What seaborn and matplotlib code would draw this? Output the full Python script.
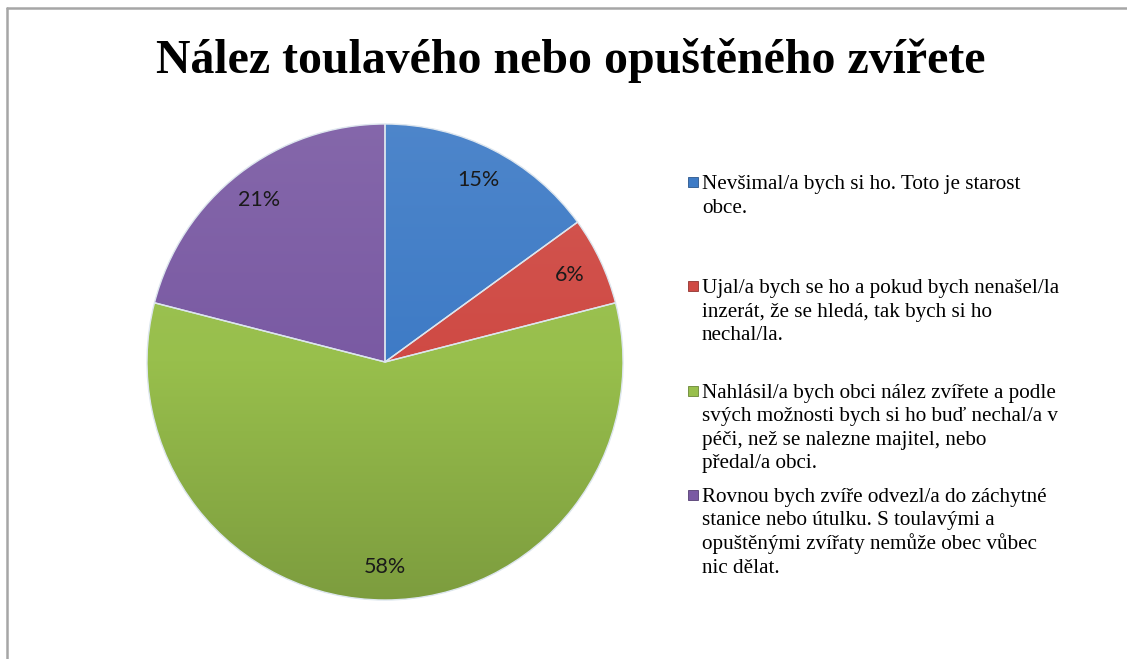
import matplotlib
matplotlib.use("Agg")
import matplotlib.pyplot as plt
import numpy as np
import seaborn as sns
from matplotlib.lines import Line2D
from matplotlib.patches import Rectangle
from matplotlib.colors import LinearSegmentedColormap, to_rgb

# data
odpovedi = [
    "Nevšimal/a bych si ho. Toto je starost\nobce.",
    "Ujal/a bych se ho a pokud bych nenašel/la\ninzerát, že se hledá, tak bych si ho\nnechal/la.",
    "Nahlásil/a bych obci nález zvířete a podle\nsvých možnosti bych si ho buď nechal/a v\npéči, než se nalezne majitel, nebo\npředal/a obci.",
    "Rovnou bych zvíře odvezl/a do záchytné\nstanice nebo útulku. S toulavými a\nopuštěnými zvířaty nemůže obec vůbec\nnic dělat.",
]
podil = [15, 6, 58, 21]
barvy = ["#3E7BC6", "#CF4A44", "#98BF4C", "#7A5AA3"]
titulek = "Nález toulavého nebo opuštěného zvířete"

sns.set_style("white")
paleta = sns.color_palette(barvy)


def shade(c, f):
    c = np.array(to_rgb(c))
    if f >= 1:
        return tuple(c + (1 - c) * (f - 1))
    return tuple(c * f)


W, H = 1127, 659
fig = plt.figure(figsize=(W / 100, H / 100), dpi=100)

# pie axes: center (385, 362), radius 238 px
cx, cy, r = 385, 362, 238
ax = fig.add_axes([(cx - r) / W, (H - cy - r) / H, 2 * r / W, 2 * r / H])
wedges, texts, autotexts = ax.pie(
    podil, colors=paleta, startangle=90, counterclock=False,
    autopct=lambda p: f"{p:.0f}%", pctdistance=0.86,
    wedgeprops=dict(edgecolor="#DDE6EE", linewidth=1.0),
    textprops=dict(fontsize=15.5, family="Lato", color="#1a1a1a"),
)

# soft top-to-bottom shading like the office 3D style
grad = np.linspace(1, 0, 256).reshape(-1, 1)
for w, c in zip(wedges, paleta):
    cmap = LinearSegmentedColormap.from_list("g", [shade(c, 0.82), c, shade(c, 1.08)])
    im = ax.imshow(grad, extent=(-1, 1, -1, 1), cmap=cmap, vmin=0, vmax=1,
                   aspect="auto", zorder=1.5, interpolation="bilinear")
    im.set_clip_path(w)
    w.set_facecolor("none")
    w.set_zorder(2)
for t in autotexts:
    t.set_zorder(3)

ax.set_xlim(-1, 1)
ax.set_ylim(-1, 1)
ax.set_aspect("auto")
ax.axis("off")

fig.text(571 / W, 1 - 73 / H, titulek, ha="center", va="baseline",
         family="Liberation Serif", fontweight="bold", fontsize=34.5, color="black")

# legend drawn by hand, one text per line
x_txt = 702 / W
base0 = 189
step = 104.3
row = 23.6
for i, (lab, c) in enumerate(zip(odpovedi, paleta)):
    b = base0 + i * step
    for j, line in enumerate(lab.split("\n")):
        fig.text(x_txt, 1 - (b + j * row) / H, line, ha="left", va="baseline",
                 family="Liberation Serif", fontsize=15.2, color="black")
    fig.add_artist(Rectangle((688 / W, 1 - (b - 2) / H), 10 / W, 10 / H,
                             transform=fig.transFigure, facecolor=c,
                             edgecolor=shade(c, 0.7), linewidth=0.6))

# outer frame (top and left edge visible)
fig.add_artist(Line2D([7 / W, 1], [1 - 8 / H, 1 - 8 / H], transform=fig.transFigure,
                      color="#A6A6A6", linewidth=1.8))
fig.add_artist(Line2D([7 / W, 7 / W], [0, 1 - 8 / H], transform=fig.transFigure,
                      color="#A6A6A6", linewidth=1.8))

fig.savefig("out.png", dpi=100, facecolor="white")
